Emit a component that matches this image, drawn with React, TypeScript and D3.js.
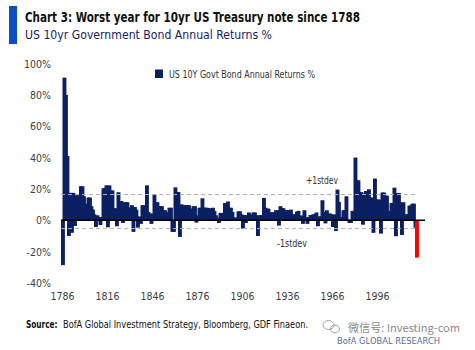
import React from 'react'
import * as d3 from 'd3'

// annual returns %, one value per year starting 1786 (last = 2022)
const START_YEAR = 1786
const RETURNS = [
  -28.6, 91, 80, 41, -10, 17.5, -8, 17.5, -3.6, 16,
  16, 12, 21.7, 21.7, 15.3, 10.6, 6.4, 14.5, 14.5, 9,
  6.8, 3.8, -4.3, 3.2, 2.1, -3, 2.1, 20.4, 20.4, 22.3,
  -4.5, 22.3, 19, 19, 7.7, 7.7, -3.8, 17.9, 12.3, 12.3,
  -1.7, 11.5, 11.5, 11.5, 8, 8, 9.6, -7.4, 8.5, 6.8,
  -4.7, 2.5, -2.3, 9.6, 9.6, 5.3, 22.3, 5.3, 4.3, -2.3,
  4.3, 16.6, 11.5, 11.5, 9, 9, 9, 6.4, 6.4, 5,
  5, 8, 8, -7.4, -7.4, 21, 18, 18, -10.6, 10.2,
  9.6, 9.6, 9.6, 9.6, 9.6, 7.4, 7.4, 9, 9, -1.5,
  3.2, 8, 8, 14, 8, 8, 8, 7.7, 7.7, 6.4,
  8, 6, 3.2, 1.7, -1.7, 4.7, 4.7, 4.7, 11, 11,
  12, 8, 8, 5.3, 1.7, 1.7, 1.7, 5.7, 5.7, 3.8,
  -5.3, 3.4, -1.7, 3.4, 5, 3.6, 3.6, 5, 5, 3.2,
  -10, 3.2, 3.2, 3.2, 14.3, 8, 7.4, 7.4, 5, 5,
  5, 5, 6.4, 6.4, -3.4, 9, 7.7, 7.7, 6.4, 6.4,
  6.4, 6.4, 6.8, 3.8, 3.8, 3.8, 5.5, 6, 3, 3,
  -2.3, 6.4, 2, -2.3, 2, 3.4, 3.4, 3.8, 3.8, 5,
  -3.8, 2.5, 2.5, 12.8, 5.3, -2, 6.4, 4.3, 4.3, 3.8,
  -4.3, 3.8, -6.8, 19.6, 11.7, 2, 2, 6.4, 6.4, 15.3,
  0.5, -1.7, -1.7, 6, 6, 40, 25.5, 25.5, 6.4, 18,
  -2.8, 17, 18.7, 18.7, 19.8, 14.5, 14.5, -8, 26.6, 13.2,
  13.2, 13.2, -8.5, 17.7, 17.7, 15.7, 15.7, 6, 5.3, 11,
  11, 20.8, -10.2, 17.4, 17.4, 11.5, -9.4, 11.5, 3.8, 3.8,
  3.8, 9.4, 9.4, 10.6, 10.6, -4.7, -23.8,
]
const YEARS = RETURNS.map((_, i) => START_YEAR + i)
const X_TICKS = [1786, 1816, 1846, 1876, 1906, 1936, 1966, 1996]
const Y_TICKS = [-40, -20, 0, 20, 40, 60, 80, 100]
const PLUS_STDEV = 16.4
const MINUS_STDEV = -5.3

const NAVY = '#0b1f63'
const FONT = '"DejaVu Sans Condensed", "Liberation Sans Narrow", sans-serif'

export default function App() {
  const x = d3.scaleBand<number>()
    .domain(YEARS)
    .range([61, 61 + YEARS.length * 1.5])
    .padding(0)
  const barW = x.step() * 2.6
  const y = d3.scaleLinear().domain([-40, 100]).range([283, 63.5])
  const lastYear = YEARS[YEARS.length - 1]

  return (
    <svg width={475} height={350} style={{ position: 'absolute', left: 0, top: 0, background: '#fff' }}
      fontFamily={FONT}>
      {/* header */}
      <rect x={9} y={6} width={8} height={38} fill="#0a4fc4" />
      <text x={25} y={22} fontSize={14.5} fontWeight="bold" fill="#111" textLength={335} lengthAdjust="spacingAndGlyphs">
        Chart 3: Worst year for 10yr US Treasury note since 1788
      </text>
      <text x={25} y={39} fontSize={13} fill="#1a1c5c" textLength={247} lengthAdjust="spacingAndGlyphs">
        US 10yr Government Bond Annual Returns %
      </text>

      {/* y axis labels */}
      {Y_TICKS.map(t => (
        <text key={t} x={51} y={y(t) + 4} fontSize={10.5} fill="#404040" textAnchor="end">{t}%</text>
      ))}
      {/* x axis labels */}
      {X_TICKS.map(t => (
        <text key={t} x={(x(t) ?? 0) + 1.5} y={300} fontSize={10.5} fill="#404040" textAnchor="middle">{t}</text>
      ))}

      {/* bars */}
      {YEARS.map((yr, i) => {
        const v = RETURNS[i]
        return (
          <rect key={yr} x={x(yr)} y={y(Math.max(v, 0))} width={barW}
            height={Math.abs(y(v) - y(0))} fill={yr === lastYear ? '#ff0000' : NAVY} />
        )
      })}

      {/* stdev bands */}
      {[PLUS_STDEV, MINUS_STDEV].map(s => (
        <line key={s} x1={61} x2={417} y1={y(s)} y2={y(s)} stroke="#b0b0b0" strokeWidth={1} strokeDasharray="4 3" />
      ))}
      <line x1={61} x2={425} y1={y(0)} y2={y(0)} stroke="#000" strokeWidth={1.5} />
      <text x={306} y={184} fontSize={11} fill="#333" textLength={32} lengthAdjust="spacingAndGlyphs">+1stdev</text>
      <text x={277} y={246.5} fontSize={11} fill="#333" textLength={30} lengthAdjust="spacingAndGlyphs">-1stdev</text>

      {/* legend */}
      <rect x={155} y={69.5} width={8} height={8.5} fill={NAVY} />
      <text x={169} y={77.5} fontSize={10.5} fill="#333" textLength={146} lengthAdjust="spacingAndGlyphs">
        US 10Y Govt Bond Annual Returns %
      </text>

      {/* footer */}
      <text transform="translate(26,327.5) scale(0.78,1)" fontSize={10.5} fontWeight="bold" fill="#111">
        Source:
      </text>
      <text x={63} y={327.5} fontSize={10.5} fill="#111" textLength={245} lengthAdjust="spacingAndGlyphs">
        BofA Global Investment Strategy, Bloomberg, GDF Finaeon.
      </text>
      <g fill="none" stroke="#9a9a9a" strokeWidth={0.9}>
        <ellipse cx={328.5} cy={325} rx={5.5} ry={4.5} />
        <ellipse cx={335} cy={329} rx={4.5} ry={3.8} />
      </g>
      <text x={348} y={332} fontSize={11} fill="#8a8a8a" textLength={112} lengthAdjust="spacingAndGlyphs"
        fontFamily={'"Noto Sans CJK SC", "DejaVu Sans Condensed", sans-serif'}>
        微信号: Investing-com
      </text>
      <text x={337} y={343.5} fontSize={9.5} fill="#5b6d96" textLength={103} lengthAdjust="spacingAndGlyphs">
        BofA GLOBAL RESEARCH
      </text>
    </svg>
  )
}
